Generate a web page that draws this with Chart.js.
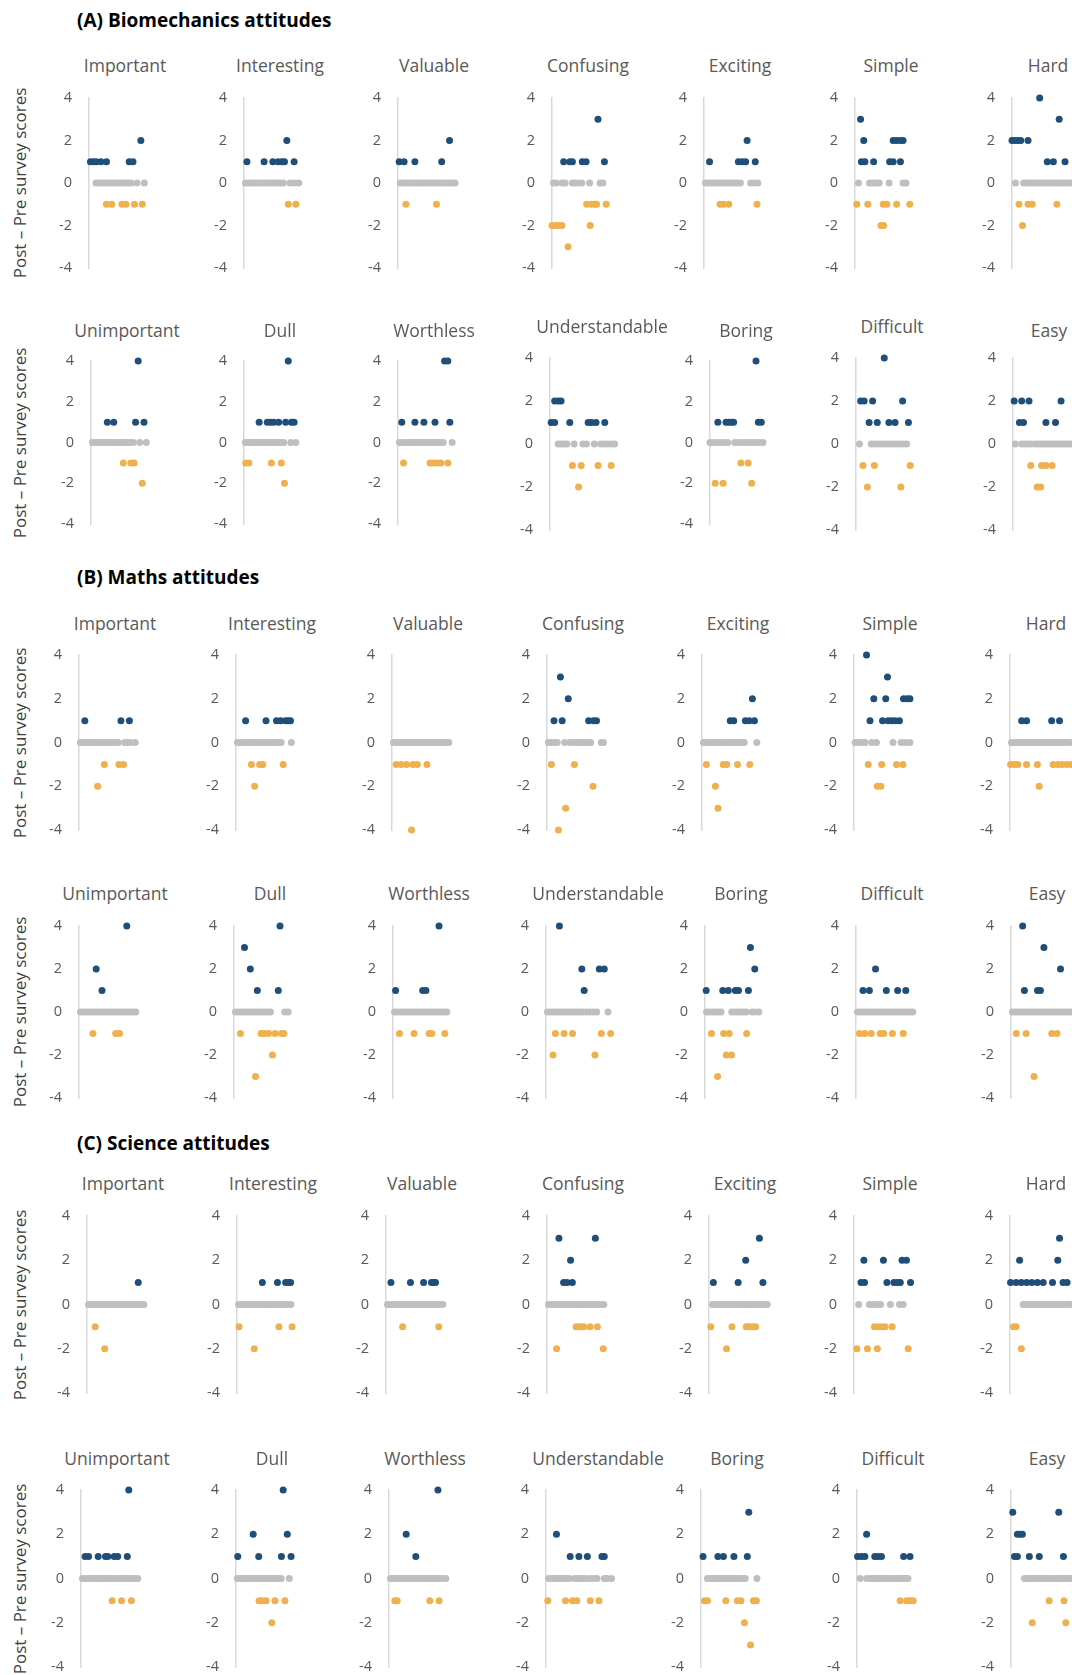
<!DOCTYPE html>
<html>
<head>
<meta charset="utf-8">
<script src="https://cdn.jsdelivr.net/npm/chart.js@4.4.1/dist/chart.umd.min.js"></script>
<style>
	body { margin: 0; background: #fff; width: 1072px; height: 1675px; overflow: hidden; position: relative; font-family: "Open Sans", sans-serif; }
	canvas { position: absolute; }
	.section { position: absolute; left: 77px; font-weight: bold; font-size: 19px; color: #000; transform: translateY(-50%); white-space: nowrap; }
	.ptitle { position: absolute; font-size: 17.5px; color: #595959; transform: translate(-50%, -50%); white-space: nowrap; }
	.ytitle { position: absolute; left: 19px; font-size: 17px; color: #404040; transform: translate(-50%, -50%) rotate(-90deg); white-space: nowrap; }
</style>
</head>
<body>
<script>
"use strict";

const sections = ["(A) Biomechanics attitudes", "(B) Maths attitudes", "(C) Science attitudes"];
const wordsTop = ["Important", "Interesting", "Valuable", "Confusing", "Exciting", "Simple", "Hard"];
const wordsBottom = ["Unimportant", "Dull", "Worthless", "Understandable", "Boring", "Difficult", "Easy"];
const yTitle = "Post \u2013 Pre survey scores";
const yTicks = [-4, -2, 0, 2, 4];

// each panel: [score, x, x, ...] groups, x = participant position along the row
const bioRow1 = [
	[[2, 17.8], [1, 0.5, 1.5, 2.5, 4.1, 6, 13.8, 15.1], [0, 2.4, 3.4, 4.4, 5.4, 6.5, 7.5, 8.5, 9.5, 10.5, 11.5, 12.5, 13.5, 14.5, 16.5, 19], [-1, 6, 7.8, 11.3, 12.7, 15.6, 18.3]],
	[[2, 14.7], [1, 1, 6.9, 9.9, 11.7, 13, 13.9, 17.2], [0, 0.5, 1.5, 2.5, 3.5, 4.5, 5.5, 6.5, 7.5, 8.5, 9.5, 10.5, 11.5, 12.5, 13.5, 15.8, 17.3, 18.8], [-1, 15.2, 17.8]],
	[[2, 17.7], [1, 0.4, 2.1, 5.8, 15], [0, 0.8, 1.8, 2.8, 3.8, 4.8, 5.8, 6.8, 7.8, 8.8, 9.8, 10.8, 11.8, 12.8, 13.8, 14.8, 15.8, 16.8, 17.8, 18.8, 19.6], [-1, 2.7, 13.2]],
	[[3, 15.8], [1, 4, 6.1, 7, 10.4, 11.7, 18], [0, 0.5, 1.5, 3.5, 4.5, 7, 8, 9, 10.2, 12.9, 16.5, 17.5], [-1, 11.9, 13.5, 14.6, 15.3, 18.6], [-2, 0, 1.2, 2.4, 3.4, 13.1], [-3, 5.5]],
	[[2, 14.8], [1, 1.9, 11.8, 13.1, 14.3, 17.6], [0, 0.5, 1.5, 2.5, 3.5, 4.5, 5.5, 6.5, 7.5, 8.5, 9.5, 10.5, 11.5, 12.5, 16, 17, 18.5], [-1, 5.5, 6.7, 8.5, 18.2]],
	[[3, 1.9], [2, 3, 13.1, 14.3, 15.6, 16.5], [1, 2.2, 3.4, 6.4, 11.9, 13.1, 15.6], [0, 1.2, 5, 6, 7, 8.3, 11.7, 16.5, 17.5], [-1, 0.6, 4.4, 9.7, 10.9, 14.3, 18.8], [-2, 8.9, 9.8]],
	[[4, 9.5], [3, 16.2], [2, 0, 1, 2, 3, 5.5], [1, 12.1, 14.2, 18.2], [0, 1.2, 4, 5, 6, 7, 8, 9, 10, 11, 12, 13, 14, 15, 16, 17, 18, 19, 20], [-1, 2.4, 5.5, 6.9, 15.4], [-2, 3.6]]
];
const bioRow2 = [
	[[4, 16.2], [1, 5.6, 7.8, 15.3, 18.2], [0, 0.5, 1.5, 2.5, 3.5, 4.5, 5.5, 6.5, 7.5, 8.5, 9.5, 10.5, 11.5, 12.5, 13.5, 14.5, 16.7, 19], [-1, 11.1, 13.7, 14.8], [-2, 17.6]],
	[[4, 15.2], [1, 5.2, 8, 9.1, 10.2, 11.9, 14.3, 16.3, 17.2], [0, 0.5, 1.5, 2.5, 3.5, 4.5, 5.5, 6.5, 7.5, 8.5, 9.5, 10.5, 11.5, 12.5, 13.7, 16.1, 17.8], [-1, 0.6, 1.7, 9.4, 12.8], [-2, 13.9]],
	[[4, 16, 17.1], [1, 1.3, 5.8, 8.9, 12.7, 17.8], [0, 0.5, 1.5, 2.5, 3.5, 4.5, 5.5, 6.5, 7.5, 8.5, 9.5, 10.5, 11.5, 12.5, 13.5, 14.5, 15.5, 18.6], [-1, 1.9, 11, 12.1, 13.6, 14.7, 17.1]],
	[[2, 1.6, 2.8, 3.8], [1, 0.4, 1.6, 6.8, 13.1, 14.3, 15.8, 18.8], [0, 2.8, 3.8, 4.8, 5.8, 8.3, 11.3, 12.5, 15.2, 17.4, 18.6, 19.8, 21.1, 22.2], [-1, 7.7, 10.7, 16.5, 21], [-2, 9.8]],
	[[4, 15.8], [1, 2.7, 5.5, 6.4, 7.3, 8.1, 16.6, 17.6], [0, 0, 1.2, 2.4, 3.6, 4.9, 6.1, 8.5, 9.7, 10.9, 12.2, 13.4, 14.6, 15.8, 17, 18.2], [-1, 10.6, 13.1], [-2, 1.8, 4.5, 14.3]],
	[[4, 9.7], [2, 1.6, 2.8, 5.7, 16], [1, 4.5, 7.3, 11.3, 13.4, 18], [0, 1.2, 5.2, 6.4, 7.6, 8.9, 10.1, 11.3, 12.5, 13.7, 14.9, 16.2, 17.4], [-1, 2.4, 6.3, 18.6], [-2, 3.9, 15.4]],
	[[2, 0.4, 3, 5.5, 16.5], [1, 2.2, 3.6, 11.3, 14.6], [0, 0.8, 3, 4, 5, 6.2, 7.5, 8.5, 9.5, 10.5, 11.5, 12.5, 13.5, 14.5, 15.5, 16.5, 17.5, 18.5, 19.5, 20.5], [-1, 6.1, 9.8, 11.3, 13.4], [-2, 8.3, 9.5]]
];
const mathRow1 = [
	[[1, 2, 14.4, 17.3], [0, 0.5, 1.5, 2.5, 3.5, 4.5, 5.5, 6.5, 7.5, 8.5, 9.5, 10.5, 11.5, 12.5, 13.5, 15.7, 16.7, 17.7, 19.3], [-1, 8.7, 13.7, 15.3], [-2, 6.4]],
	[[1, 3.3, 10.3, 13.9, 15.3, 17, 17.9, 18.7], [0, 0.5, 1.5, 2.5, 3.5, 4.5, 5.5, 6.5, 7.5, 8.5, 9.5, 10.5, 11.5, 12.5, 13.5, 14.5, 15.5, 19], [-1, 5.3, 8.1, 9.2, 16.2], [-2, 6.4]],
	[[0, 0.5, 1.5, 2.5, 3.5, 4.5, 5.5, 6.5, 7.5, 8.5, 9.5, 10.5, 11.5, 12.5, 13.5, 14.5, 15.5, 16.5, 17.5, 18.5, 19.5], [-1, 1.4, 3.1, 5, 7.2, 8.7, 12], [-4, 6.7]],
	[[3, 4.6], [2, 7.3], [1, 2.4, 5.2, 14.3, 16, 17], [0, 0.5, 1.5, 2.5, 3.5, 6.1, 7.9, 9, 10, 11, 12, 13, 14, 15, 18.6, 19.4], [-1, 1.5, 9.4], [-2, 15.8], [-3, 6.4], [-4, 3.9]],
	[[2, 17.3], [1, 9.7, 10.9, 14.9, 16.2, 18], [0, 0.5, 1.5, 2.5, 3.5, 4.5, 5.5, 6.5, 7.5, 8.5, 9.5, 10.5, 11.5, 12.5, 13.5, 14.5, 18.8], [-1, 1.5, 7.3, 8.5, 12.2, 16.4], [-2, 4.6], [-3, 5.5]],
	[[4, 4.3], [3, 11.5], [2, 6.8, 10.9, 17, 18.2, 19.2], [1, 5.5, 9.8, 11.7, 12.9, 14.1, 15.6], [0, 0.4, 1.5, 2.7, 3.8, 6.1, 7.7, 13.4, 16.2, 17.6, 19.2], [-1, 4.9, 9.5, 14.6, 16.8], [-2, 8, 9.2]],
	[[1, 4, 5.7, 14.3, 17], [0, 0.5, 1.5, 2.5, 3.5, 4.5, 5.5, 6.5, 7.5, 8.5, 9.5, 10.5, 11.5, 12.5, 13.5, 14.5, 15.5, 16.5, 17.5, 18.5, 19.5, 20.5], [-1, 0.2, 1.5, 2.7, 5.7, 9.4, 14.8, 16.5, 17.9, 19.5, 21], [-2, 10]]
];
const mathRow2 = [
	[[4, 16.4], [2, 5.9], [1, 7.9], [0, 0.5, 1.5, 2.5, 3.5, 4.5, 5.5, 6.5, 7.5, 8.5, 9.5, 10.5, 11.5, 12.5, 13.5, 14.5, 15.5, 16.5, 17.5, 18.5, 19.5], [-1, 4.8, 12.6, 13.9]],
	[[4, 15.8], [3, 3.6], [2, 5.6], [1, 8, 15.2], [0, 0.5, 1.5, 2.5, 3.5, 4.5, 5.5, 6.5, 7.5, 8.5, 9.5, 10.5, 11.5, 12.5, 17.4, 18.6], [-1, 2.2, 9.3, 10.4, 11.9, 14.1, 16.3, 17.1], [-2, 13.2], [-3, 7.4]],
	[[4, 15.8], [1, 0.9, 10.2, 11.3], [0, 0.5, 1.5, 2.5, 3.5, 4.5, 5.5, 6.5, 7.5, 8.5, 9.5, 10.5, 11.5, 12.5, 13.5, 14.5, 15.5, 16.5, 17.5, 18.5], [-1, 2.2, 7.2, 12.4, 13.3, 17.8]],
	[[4, 4.6], [2, 12.3, 18.3, 20], [1, 13.1], [0, 0.5, 1.5, 2.5, 3.5, 4.5, 5.5, 6.5, 7.5, 8.5, 9.5, 10.5, 11.5, 12.5, 13.8, 15, 16.2, 17.4, 21.3], [-1, 3.2, 6.2, 9.1, 19, 22.2], [-2, 2.4, 16.8]],
	[[3, 15.6], [2, 17.1], [1, 0.4, 6.1, 8, 10.4, 11.5, 14.9], [0, 0.5, 1.5, 2.5, 3.5, 4.5, 5.5, 9.2, 10.2, 11.2, 12.2, 13.2, 14.2, 16.2, 17.2, 18.5], [-1, 2.2, 6.4, 8.3, 14.3], [-2, 7.3, 9.1], [-3, 4.3]],
	[[2, 6.7], [1, 2.4, 4.6, 10.4, 14.3, 17.1], [0, 0.5, 1.5, 2.5, 3.5, 4.5, 5.5, 6.5, 7.5, 8.5, 9.5, 10.5, 11.5, 12.5, 13.5, 14.5, 15.5, 16.5, 17.5, 18.5, 19.5], [-1, 1.2, 3, 5.2, 8.3, 9.5, 12.5, 16.2]],
	[[4, 4], [3, 11.3], [2, 17], [1, 4.6, 9.1, 10.1], [0, 0.5, 1.5, 2.5, 3.5, 4.5, 5.5, 6.5, 7.5, 8.5, 9.5, 10.5, 11.5, 12.5, 13.5, 14.5, 15.5, 16.5, 17.5, 18.5, 19.5, 20.5], [-1, 1.8, 5.2, 14, 15.8], [-3, 7.9]]
];
const sciRow1 = [
	[[1, 17.6], [0, 0.5, 1.5, 2.5, 3.5, 4.5, 5.5, 6.5, 7.5, 8.5, 9.5, 10.5, 11.5, 12.5, 13.5, 14.5, 15.5, 16.5, 17.5, 18.5, 19.5], [-1, 2.8], [-2, 6.1]],
	[[1, 8.7, 13.9, 16.7, 17.6, 18.4], [0, 0.5, 1.5, 2.5, 3.5, 4.5, 5.5, 6.5, 7.5, 8.5, 9.5, 10.5, 11.5, 12.5, 13.5, 14.5, 15.5, 16.5, 17.5, 18.5], [-1, 0.7, 14.4, 18.9], [-2, 5.9]],
	[[1, 1.7, 8.4, 12.9, 15.6, 16.4, 17], [0, 0.5, 1.5, 2.5, 3.5, 4.5, 5.5, 6.5, 7.5, 8.5, 9.5, 10.5, 11.5, 12.5, 13.5, 14.5, 15.5, 16.5, 17.5, 18.5, 19.5], [-1, 5.7, 18.1]],
	[[3, 4.1, 16.6], [2, 8.1], [1, 5.7, 6.9, 8.7], [0, 0.5, 1.5, 2.5, 3.5, 4.5, 5.5, 6.5, 7.5, 8.5, 9.5, 10.5, 11.5, 12.5, 13.5, 14.5, 15.5, 16.5, 17.5, 18.5, 19.5], [-1, 10, 11.3, 12.6, 14.8, 17.3], [-2, 3.3, 19.3]],
	[[3, 17.3], [2, 12.6], [1, 1.5, 10, 18.5], [0, 1.2, 2.2, 3.2, 4.2, 5.2, 6.2, 7.2, 8.2, 9.2, 10.2, 11.2, 12.2, 13.2, 14.2, 15.2, 16.2, 17.2, 18.2, 19.2, 20], [-1, 0.6, 7.9, 12.8, 13.8, 14.9, 16], [-2, 6]],
	[[2, 3.4, 10.1, 16.5, 18], [1, 2.4, 3.6, 11.3, 13.7, 14.9, 15.9, 19.4], [0, 1.6, 5.3, 6.5, 7.7, 9.1, 12.5, 15.6, 16.9], [-1, 7, 8.3, 9.5, 10.7, 13.1], [-2, 1, 4.6, 8, 18.6]],
	[[3, 17], [2, 3.3, 16.4], [1, 0.2, 2.1, 3.9, 5.7, 7.5, 9.4, 11.4, 14.6, 18.2, 19.6], [0, 4.5, 5.5, 6.5, 7.5, 8.5, 9.5, 10.5, 11.5, 12.5, 13.5, 14.5, 15.5, 16.5, 17.5, 18.5, 19.5, 20.5], [-1, 1.2, 2.1], [-2, 3.9]]
];
const sciRow2 = [
	[[4, 16.4], [1, 1.4, 2.6, 5.9, 8.4, 9.2, 11.4, 12.6, 15.9], [0, 0.5, 1.5, 2.5, 3.5, 4.5, 5.5, 6.5, 7.5, 8.5, 9.5, 10.5, 11.5, 12.5, 13.5, 14.5, 15.5, 16.5, 17.5, 18.5, 19.5], [-1, 10.7, 13.9, 17.3]],
	[[4, 16.2], [2, 5.9, 17.6], [1, 0.6, 7.8, 15.6, 18.9], [0, 0.5, 1.5, 2.5, 3.5, 4.5, 5.5, 6.5, 7.5, 8.5, 9.5, 10.5, 11.5, 12.5, 13.5, 14.5, 15.5, 18.3], [-1, 7.9, 8.8, 10.3, 13.4, 16.8], [-2, 12.3]],
	[[4, 16.8], [2, 5.9], [1, 9.2], [0, 0.5, 1.5, 2.5, 3.5, 4.5, 5.5, 6.5, 7.5, 8.5, 9.5, 10.5, 11.5, 12.5, 13.5, 14.5, 15.5, 16.5, 17.5, 18.5, 19.5], [-1, 2, 2.8, 14, 17.2]],
	[[2, 3.6], [1, 8.3, 11.3, 14.2, 19.2, 20], [0, 0.9, 2, 3, 4, 5, 6, 7, 8, 9.8, 11, 12, 13, 14, 15.5, 16.5, 17.5, 20, 21, 22.5], [-1, 0.6, 6.7, 9.1, 10.6, 15.2, 18.2]],
	[[3, 16.4], [1, 0.7, 5.8, 7.7, 11.3, 15.9], [0, 2.2, 3.2, 4.2, 5.2, 6.2, 7.2, 8.2, 9.2, 10.2, 11.2, 12.2, 13.2, 14.2, 15.2, 19.2], [-1, 1.2, 2.2, 8.5, 12.5, 13.7, 18, 19], [-2, 14.9], [-3, 17]],
	[[2, 3.3], [1, 0.2, 1.5, 2.7, 6.1, 7.2, 8.4, 16, 18.2], [0, 1.1, 3.3, 4.5, 5.5, 6.5, 7.5, 8.5, 9.5, 10.5, 11.5, 12.5, 13.5, 14.5, 15.5, 16.5, 17.5], [-1, 14.8, 17, 18.2, 19.3]],
	[[3, 0.6, 16.4], [2, 2.2, 3, 3.9], [1, 1.2, 2.2, 6.3, 9.7, 18], [0, 4.6, 5.6, 6.6, 7.6, 8.6, 9.6, 10.6, 11.6, 12.6, 13.6, 14.6, 15.6, 16.6, 17.6, 18.6, 19.6, 20.6], [-1, 13.1, 18.2], [-2, 7.3, 18.8]]
];

const rows = [bioRow1, bioRow2, mathRow1, mathRow2, sciRow1, sciRow2];

// page layout (px)
const sectionY = [20, 577, 1143];
const rowTop = [98, 361, 655, 926, 1216, 1490];
const rowBottom = [268, 524, 830, 1098, 1393, 1667];
const rowTitleY = [65, 330, 623, 893, 1183, 1458];
const rowAxisX = [
	[89, 244, 398, 552, 704, 855, 1012],
	[91, 244, 398, 550, 710, 856, 1013],
	[79, 236, 392, 547, 702, 854, 1010],
	[79, 234, 393, 546, 705, 856, 1011],
	[87, 237, 386, 547, 709, 854, 1010],
	[81, 236, 389, 546, 701, 857, 1011]
];
const Y_W = 36;
const PLOT_W = 120;
const PAD = 12;

const colorUp = "#1f4e79";
const colorZero = "#bfbfbf";
const colorDown = "#efb04e";

function addText(cls, text, x, y) {
	const el = document.createElement("div");
	el.className = cls;
	el.textContent = text;
	if (x !== null) el.style.left = x + "px";
	el.style.top = y + "px";
	document.body.appendChild(el);
}

function toDatasets(groups) {
	const up = [], zero = [], down = [];
	groups.forEach(([score, ...xs]) => {
		const pts = xs.map(x => ({ x: x, y: score }));
		if (score > 0) up.push(...pts);
		else if (score < 0) down.push(...pts);
		else zero.push(...pts);
	});
	return [[zero, colorZero], [up, colorUp], [down, colorDown]].map(([data, c]) => ({
		data: data,
		backgroundColor: c,
		borderColor: c,
		borderWidth: 0,
		pointRadius: 3.5,
		pointHoverRadius: 3.5,
		clip: false
	}));
}

function drawPanel(groups, left, top, bottom) {
	const canvas = document.createElement("canvas");
	const h = bottom - top;
	canvas.width = Y_W + PLOT_W;
	canvas.height = h + 2 * PAD;
	canvas.style.left = (left - Y_W) + "px";
	canvas.style.top = (top - PAD) + "px";
	document.body.appendChild(canvas);

	const chart = new Chart(canvas.getContext("2d"), {
		type: "scatter",
		data: { datasets: toDatasets(groups) },
		options: {
			responsive: false,
			animation: false,
			layout: { padding: { top: PAD, bottom: PAD, left: 0, right: 0 } },
			plugins: { legend: { display: false }, tooltip: { enabled: false } },
			scales: {
				x: { type: "linear", display: false, min: 0, max: PLOT_W / 3 },
				y: {
					min: yTicks[0],
					max: yTicks[yTicks.length - 1],
					afterBuildTicks: s => { s.ticks = yTicks.map(v => ({ value: v })); },
					afterFit: s => { s.width = Y_W; s.paddingTop = 0; s.paddingBottom = 0; },
					ticks: { padding: 17, color: "#595959", font: { family: "Open Sans", size: 14.5 } },
					grid: { display: false, drawTicks: false },
					border: { display: true, color: "#d9d9d9", width: 1.5 }
				}
			}
		}
	});

	// keep the plot exactly between the +4 and -4 marks of the page layout
	const area = chart.chartArea;
	const insetTop = area.top;
	const insetBottom = canvas.height - area.bottom;
	if (insetTop !== PAD || insetBottom !== PAD) {
		canvas.style.top = (top - insetTop) + "px";
		chart.resize(Y_W + PLOT_W, h + insetTop + insetBottom);
	}
}

sections.forEach((s, i) => addText("section", s, null, sectionY[i]));

rows.forEach((row, r) => {
	const words = r % 2 === 0 ? wordsTop : wordsBottom;
	addText("ytitle", yTitle, null, (rowTop[r] + rowBottom[r]) / 2);
	row.forEach((groups, c) => {
		let top = rowTop[r], bottom = rowBottom[r], titleY = rowTitleY[r];
		// a few panels in the second biomechanics row sit slightly taller
		if (r === 1 && (c === 3 || c === 5 || c === 6)) {
			top -= 3; bottom += 6; if (c !== 6) titleY -= 4;
		}
		const axisX = rowAxisX[r][c];
		const shift = words[c] === "Understandable" ? 52 : 36;
		addText("ptitle", words[c], axisX + shift, titleY);
		drawPanel(groups, axisX, top, bottom);
	});
});
</script>
</body>
</html>
